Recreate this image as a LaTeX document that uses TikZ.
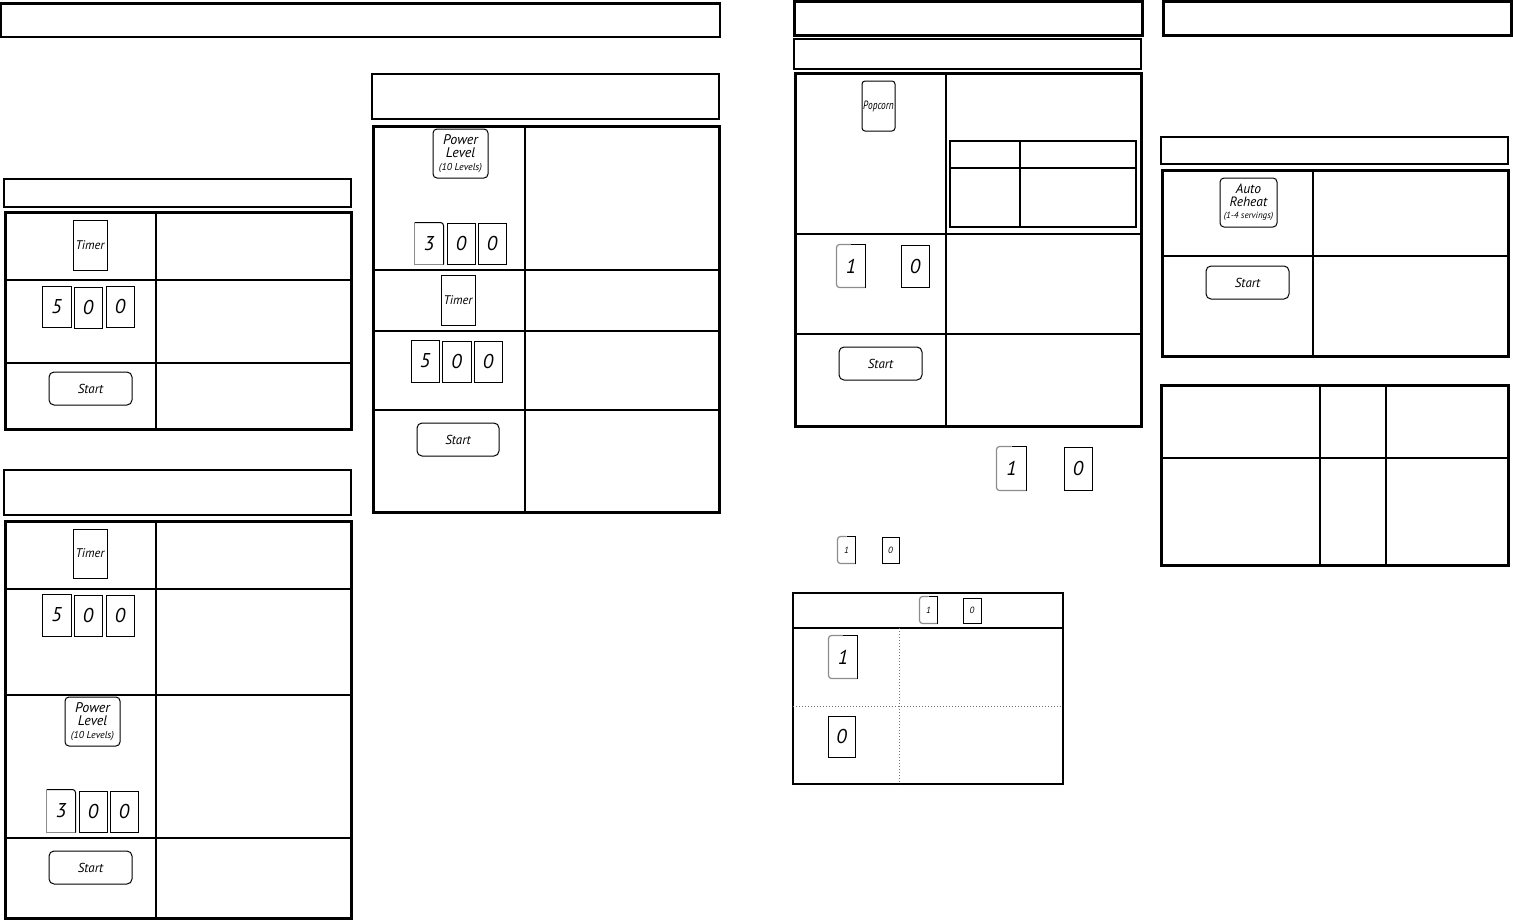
\documentclass[tikz,border=0pt]{standalone}
\usepackage{fontspec}
\usepackage{graphicx}
\setmainfont{PT Sans}
\begin{document}
\begin{tikzpicture}[x=1pt,y=-1pt,
  frame/.style={draw,line width=3pt},
  hdr/.style={draw,line width=2.5pt},
  thinline/.style={draw,line width=1.5pt},
  key/.style={draw,line width=1pt,inner sep=0pt,align=center,font=\itshape\fontsize{12.5}{13}\selectfont},
  digit/.style={font=\itshape\fontsize{20}{20}\selectfont},
  tiny/.style={font=\itshape\fontsize{9}{9}\selectfont},
  startkey/.style={rounded corners=5pt,font=\itshape\fontsize{13}{13}\selectfont},
  rkey/.style={rounded corners=4pt},
  dots/.style={draw=black!55,line width=1pt,dotted}]
\useasboundingbox (0,0) rectangle (1513,919);
% #1 options, #2 x1, #3 y1, #4 x2, #5 y2, #6 text, #7 name
\newcommand\kb[7][]{\node[key,#1,minimum width={(#4)-(#2)},minimum height={(#5)-(#3)}] (#7) at ({((#2)+(#4))/2},{((#3)+(#5))/2}) {#6};}
% key with grey left/bottom edges and rounded top-left corner
\newcommand\oneedge[1]{%
  \draw[black!45,line width=1.2pt,rounded corners=3pt] (#1.north) -| (#1.south west) [sharp corners] -- (#1.south east);
  \draw[line width=1pt] (#1.north) -- (#1.north east) -- (#1.south east);}
% key with grey left/bottom edges and rounded top-right corner
\newcommand\threeedge[1]{%
  \draw[black!45,line width=1.2pt] (#1.north west) -- (#1.south west) -- (#1.south east);
  \draw[line width=1pt,rounded corners=3pt] (#1.south east) -- (#1.north east) -- (#1.north west);}

% ---------------- left column ----------------
\draw[hdr] (1,3.5) rectangle (720,37);
\draw[thinline] (4,179) rectangle (351,207);
\draw[frame] (5,212) rectangle (351,429);
\draw[thinline] (156,212) -- (156,429);
\draw[thinline] (5,280) -- (351,280);
\draw[thinline] (5,363) -- (351,363);
\kb{73}{220}{107}{270}{Timer}{t1timer}
\kb[digit]{42}{286}{71}{327}{5}{t1a}
\kb[digit]{74}{287}{102}{328}{0}{t1b}
\kb[digit]{106}{286}{134}{327}{0}{t1c}
\kb[startkey]{49}{372}{132}{405}{Start}{t1start}

\draw[thinline] (4,470) rectangle (351,515);
\draw[frame] (5,521) rectangle (351,918);
\draw[thinline] (156,521) -- (156,918);
\draw[thinline] (5,589) -- (351,589);
\draw[thinline] (5,695) -- (351,695);
\draw[thinline] (5,838) -- (351,838);
\kb{73}{529}{107}{578}{Timer}{t2timer}
\kb[digit]{42}{594}{71}{636}{5}{t2a}
\kb[digit]{74}{595}{102}{636}{0}{t2b}
\kb[digit]{106}{595}{134}{636}{0}{t2c}
\kb[rkey,font=\itshape\fontsize{14}{13.5}\selectfont]{65}{697}{120}{746}{Power\\Level\\[-1pt]{\fontsize{10}{10}\selectfont(10 Levels)}}{t2power}
\kb[digit,draw=none]{47}{790}{75}{832}{3}{t2d}
\threeedge{t2d}
\kb[digit]{79}{791}{107}{832}{0}{t2e}
\kb[digit]{110}{791}{138}{832}{0}{t2f}
\kb[startkey]{49}{851}{132}{884}{Start}{t2start}

% ---------------- middle column ----------------
\draw[thinline] (372,74) rectangle (719,119);
\draw[frame] (373,126) rectangle (719,512);
\draw[thinline] (525,126) -- (525,512);
\draw[thinline] (373,270) -- (719,270);
\draw[thinline] (373,331) -- (719,331);
\draw[thinline] (373,410) -- (719,410);
\kb[rkey,font=\itshape\fontsize{14}{13.5}\selectfont]{433}{129}{488}{178}{Power\\Level\\[-1pt]{\fontsize{10}{10}\selectfont(10 Levels)}}{t3power}
\kb[digit,draw=none]{415}{223}{443}{264}{3}{t3a}
\threeedge{t3a}
\kb[digit]{447}{223}{475}{264}{0}{t3b}
\kb[digit]{478}{223}{506}{264}{0}{t3c}
\kb{441}{275}{475}{325}{Timer}{t3timer}
\kb[digit]{411}{340}{439}{382}{5}{t3d}
\kb[digit]{442}{341}{471}{382}{0}{t3e}
\kb[digit]{474}{341}{502}{382}{0}{t3f}
\kb[startkey]{417}{423}{499}{456}{Start}{t3start}

% ---------------- popcorn column ----------------
\draw[frame] (794,1.5) rectangle (1142,35);
\draw[thinline] (794,39) rectangle (1141,69);
\draw[frame] (795,73) rectangle (1141,426);
\draw[thinline] (946,73) -- (946,426);
\draw[thinline] (795,234) -- (1141,234);
\draw[thinline] (795,334) -- (1141,334);
\kb[font=\itshape\fontsize{12}{12}\selectfont,rounded corners=3pt]{862}{81}{895}{131}{\scalebox{0.78}[1]{Popcorn}}{pop}
\draw[thinline] (950,141) rectangle (1136,227);
\draw[thinline] (1020,141) -- (1020,227);
\draw[thinline] (950,168) -- (1136,168);
\kb[digit,draw=none]{837}{245}{865}{287}{1}{p1}
\oneedge{p1}
\kb[digit]{901}{245}{929}{287}{0}{p0}
\kb[startkey]{839}{347}{922}{380}{Start}{pstart}

\kb[digit,draw=none]{997}{447}{1026}{490}{1}{b1}
\oneedge{b1}
\kb[digit]{1064}{447}{1092}{490}{0}{b0}

\kb[tiny,draw=none]{838}{537}{855}{563}{1}{s1}
\oneedge{s1}
\kb[tiny]{882}{537}{899}{563}{0}{s0}

\draw[thinline] (793,593) rectangle (1063,784);
\draw[thinline] (793,628) -- (1063,628);
\draw[dots] (899,628) -- (899,784);
\draw[dots] (793,706) -- (1063,706);
\kb[tiny,draw=none]{920}{597}{937}{623}{1}{h1}
\oneedge{h1}
\kb[tiny]{963}{598}{981}{623}{0}{h0}
\kb[digit,draw=none]{829}{636}{857}{678}{1}{r1}
\oneedge{r1}
\kb[digit]{828}{716}{855}{757}{0}{r0}

% ---------------- right column ----------------
\draw[frame] (1163,1.5) rectangle (1511.5,35);
\draw[thinline] (1161,137) rectangle (1508,164);
\draw[frame] (1162,170) rectangle (1508,356);
\draw[thinline] (1313,170) -- (1313,356);
\draw[thinline] (1162,256) -- (1508,256);
\kb[rkey,font=\itshape\fontsize{13.5}{13}\selectfont]{1220}{178}{1277}{227}{Auto\\Reheat\\[-1pt]{\fontsize{9}{9}\selectfont(1-4 servings)}}{areheat}
\kb[startkey]{1206}{266}{1289}{299}{Start}{astart}

\draw[frame] (1161,385) rectangle (1508,565);
\draw[thinline] (1320,385) -- (1320,565);
\draw[thinline] (1386,385) -- (1386,565);
\draw[thinline] (1161,458) -- (1508,458);
\end{tikzpicture}
\end{document}
